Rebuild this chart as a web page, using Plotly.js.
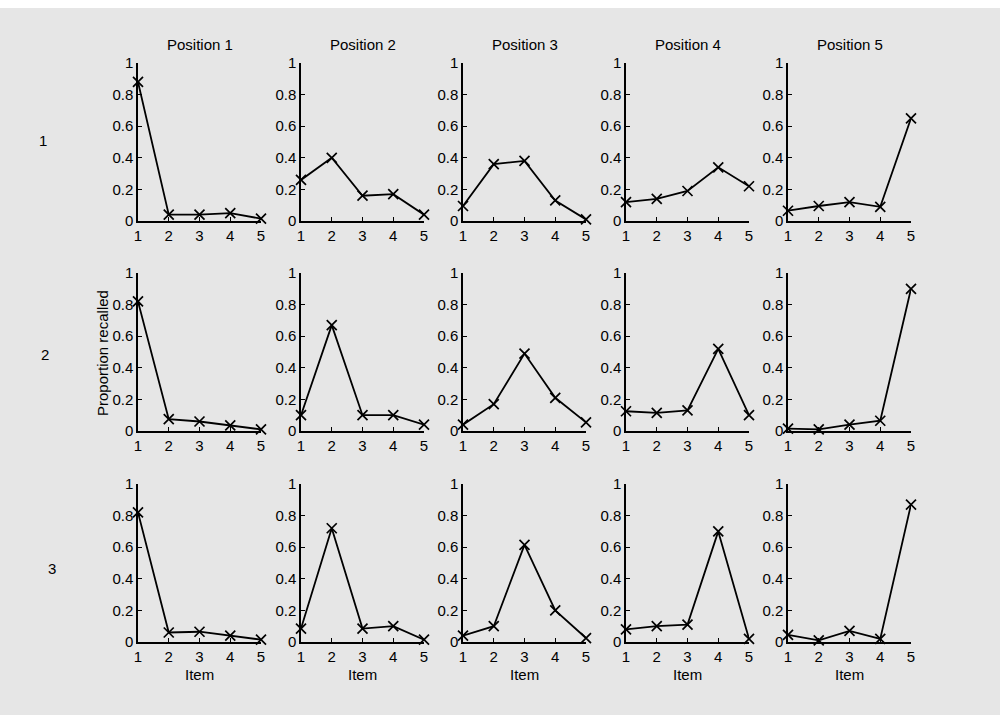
<!DOCTYPE html>
<html>
<head>
<meta charset="utf-8">
<script src="https://cdn.plot.ly/plotly-3.0.1.min.js"></script>
<style>html,body{margin:0;padding:0;background:#e6e6e6;overflow:hidden;}#chart{width:1000px;height:715px;}</style>
</head>
<body>
<div id="chart"></div>
<script>
// ---- data ----
const items = [1, 2, 3, 4, 5];
const positionTitles = ['Position 1', 'Position 2', 'Position 3', 'Position 4', 'Position 5'];
const rowLabels = ['1', '2', '3'];
const yTickVals = [0, 0.2, 0.4, 0.6, 0.8, 1];
const yTickText = ['0', '0.2', '0.4', '0.6', '0.8', '1'];
const xTickText = ['1', '2', '3', '4', '5'];
const yAxisLabel = 'Proportion recalled';
const xAxisLabel = 'Item';

// proportion recalled per item, one array per position (column)
const row1Values = [
  [0.88, 0.04, 0.04, 0.05, 0.015],
  [0.26, 0.40, 0.16, 0.17, 0.04],
  [0.095, 0.36, 0.38, 0.13, 0.01],
  [0.12, 0.14, 0.19, 0.34, 0.22],
  [0.065, 0.095, 0.12, 0.09, 0.65]
];
const row2Values = [
  [0.82, 0.075, 0.06, 0.035, 0.01],
  [0.10, 0.67, 0.10, 0.10, 0.04],
  [0.04, 0.17, 0.49, 0.21, 0.055],
  [0.125, 0.115, 0.13, 0.52, 0.10],
  [0.015, 0.01, 0.04, 0.065, 0.90]
];
const row3Values = [
  [0.82, 0.06, 0.065, 0.04, 0.015],
  [0.085, 0.72, 0.085, 0.10, 0.015],
  [0.04, 0.10, 0.615, 0.20, 0.025],
  [0.08, 0.10, 0.11, 0.70, 0.02],
  [0.045, 0.01, 0.07, 0.02, 0.87]
];
const allRows = [row1Values, row2Values, row3Values];

// ---- layout geometry (pixels) ----
const W = 1000, H = 715;
const colLeft = [138, 301, 463, 626, 788];
const colWidth = 123;
const rowTop = [63, 273, 484];
const rowBottom = [221, 431, 642];
const FONT = 'Liberation Sans, Arial, Helvetica, sans-serif';
const FS = 15;

const traces = [];
const layout = {
  width: W, height: H,
  margin: {l: 0, r: 0, t: 0, b: 0},
  paper_bgcolor: '#e6e6e6',
  plot_bgcolor: 'rgba(0,0,0,0)',
  showlegend: false,
  font: {family: FONT, size: FS, color: '#000'},
  annotations: [],
  shapes: [
    {type: 'rect', xref: 'paper', yref: 'paper', x0: 0, x1: 1, y0: 1 - 8 / H, y1: 1,
     fillcolor: '#ffffff', line: {width: 0}, layer: 'below'}
  ]
};

for (let r = 0; r < 3; r++) {
  for (let c = 0; c < 5; c++) {
    const k = r * 5 + c + 1;
    const xa = 'xaxis' + (k === 1 ? '' : k);
    const ya = 'yaxis' + (k === 1 ? '' : k);
    const xid = 'x' + (k === 1 ? '' : k);
    const yid = 'y' + (k === 1 ? '' : k);
    traces.push({
      type: 'scatter', mode: 'lines+markers',
      x: items, y: allRows[r][c],
      xaxis: xid, yaxis: yid,
      cliponaxis: false,
      line: {color: '#000', width: 1.8},
      marker: {symbol: 'x-thin-open', size: 10, color: '#000', line: {color: '#000', width: 1.7}},
      hoverinfo: 'skip'
    });
    layout[xa] = {
      domain: [colLeft[c] / W, (colLeft[c] + colWidth) / W],
      anchor: yid, range: [1, 5],
      showgrid: false, zeroline: false,
      showline: true, linecolor: '#000', linewidth: 1.6,
      ticks: 'inside', ticklen: 4, tickcolor: '#000', tickwidth: 1,
      tickvals: items, ticktext: xTickText,
      tickfont: {family: FONT, size: FS, color: '#000'},
      fixedrange: true
    };
    layout[ya] = {
      domain: [1 - rowBottom[r] / H, 1 - rowTop[r] / H],
      anchor: xid, range: [0, 1],
      showgrid: false, zeroline: false,
      showline: true, linecolor: '#000', linewidth: 1.6,
      ticks: 'inside', ticklen: 4, tickcolor: '#000', tickwidth: 1,
      tickvals: yTickVals, ticktext: yTickText,
      ticklabelstandoff: -1.5,
      tickfont: {family: FONT, size: FS, color: '#000'},
      fixedrange: true
    };
  }
}

// column titles and x labels
for (let c = 0; c < 5; c++) {
  layout.annotations.push({
    text: positionTitles[c], xref: 'paper', yref: 'paper',
    x: (colLeft[c] + colWidth / 2) / W, y: 1 - 45 / H,
    xanchor: 'center', yanchor: 'middle', showarrow: false,
    font: {family: FONT, size: FS, color: '#000'}
  });
  layout.annotations.push({
    text: xAxisLabel, xref: 'paper', yref: 'paper',
    x: (colLeft[c] + colWidth / 2) / W, y: 1 - 674 / H,
    xanchor: 'center', yanchor: 'middle', showarrow: false,
    font: {family: FONT, size: FS, color: '#000'}
  });
}
// row labels
const rowLabelX = [43, 45, 52];
const rowLabelY = [140, 355, 568];
for (let r = 0; r < 3; r++) {
  layout.annotations.push({
    text: rowLabels[r], xref: 'paper', yref: 'paper',
    x: rowLabelX[r] / W, y: 1 - rowLabelY[r] / H,
    xanchor: 'center', yanchor: 'middle', showarrow: false,
    font: {family: FONT, size: FS, color: '#000'}
  });
}
// y label
layout.annotations.push({
  text: yAxisLabel, xref: 'paper', yref: 'paper',
  x: 102 / W, y: 1 - 353 / H, textangle: -90,
  xanchor: 'center', yanchor: 'middle', showarrow: false,
  font: {family: FONT, size: FS, color: '#000'}
});

Plotly.newPlot('chart', traces, layout, {displayModeBar: false, staticPlot: true});
</script>
</body>
</html>
